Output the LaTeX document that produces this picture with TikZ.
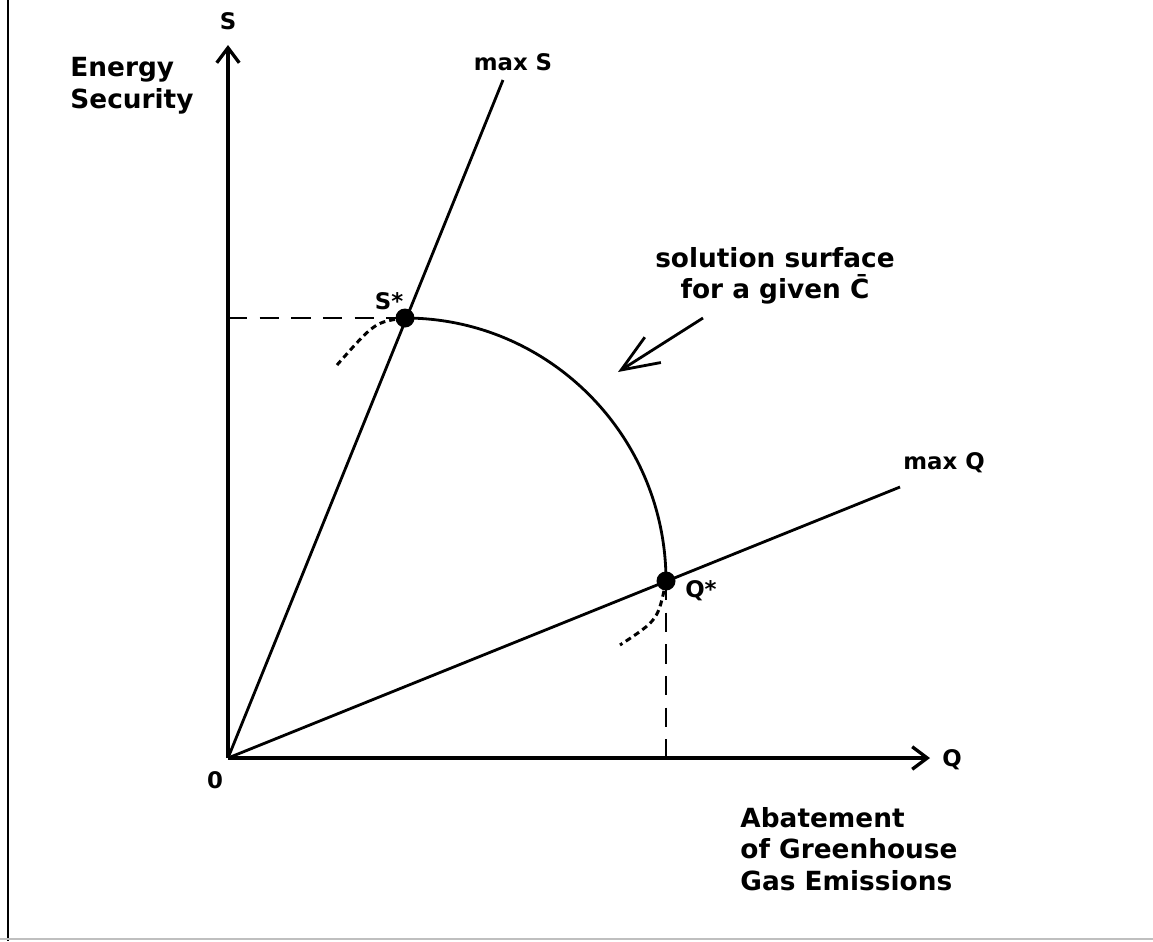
\documentclass[tikz,border=0pt]{standalone}
\usepackage{fontspec}
\setmainfont{DejaVu Sans}
\usetikzlibrary{arrows.meta,positioning}

\begin{document}
\begin{tikzpicture}[
  x=0.02cm, y=-0.02cm,
  axis/.style={line width=1.9pt, -{Straight Barb[length=0.3cm, width=0.45cm, line width=1.9pt]}},
  ray/.style={line width=1.6pt},
  guide/.style={line width=1.6pt, dash pattern=on 11pt off 7pt},
  isoquant/.style={line width=1.7pt, dash pattern=on 3.4pt off 2.3pt},
  pointer/.style={line width=1.6pt, -{Straight Barb[length=0.75cm, width=0.6cm, line width=1.6pt]}},
  dot/.style={circle, fill=black, inner sep=0pt, minimum size=0.38cm},
  smalltext/.style={font=\bfseries\fontsize{13}{15}\selectfont, inner sep=0pt},
  bigtext/.style={font=\bfseries\fontsize{15}{18}\selectfont, inner sep=0pt, align=left}
]
  \useasboundingbox (0,0) rectangle (1153,941);

  % Frame edges
  \draw[line width=1.3pt] (8,0) -- (8,941);
  \draw[gray!50, line width=1pt] (0,939) -- (1153,939);

  % Axes
  \coordinate (o) at (228,758);
  \coordinate (send) at (228,45);
  \coordinate (qend) at (930,758);
  \draw[axis] (o) -- (send);
  \draw[axis] (o) -- (qend);

  % Optimal points
  \node[dot] (sstar) at (405,318) {};
  \node[dot] (qstar) at (666,581) {};

  % Rays through the optima
  \coordinate (maxs) at (503,80);
  \coordinate (maxq) at (900,487);
  \draw[ray] (o) -- (maxs);
  \draw[ray] (o) -- (maxq);

  % Projections onto the axes
  \draw[guide] (o |- sstar) -- (sstar.center);
  \draw[guide] (qstar.center) -- (qstar |- o);

  % Solution surface
  \draw[ray] (sstar.center) .. controls (549,318) and (666,436) .. (qstar.center);
  \draw[isoquant] (sstar.center) .. controls (375,322) .. (337,365);
  \draw[isoquant] (qstar.center) .. controls (658,620) .. (620,645);

  % Labels
  \node[smalltext] (slab) at (228,21) {S};
  \node[smalltext] (qlab) at (952,760) {Q};
  \node[smalltext] (olab) at (215,780) {0};
  \node[smalltext] (maxslab) at (513,62) {max S};
  \node[smalltext] (maxqlab) at (944,463) {max Q};
  \node[smalltext] (sstarlab) at (389,301) {S*};
  \node[smalltext] (qstarlab) at (701,591) {Q*};
  \node[bigtext] (energy) at (132,86) {Energy\\Security};
  \node[bigtext] (abate) at (849,849) {Abatement\\of Greenhouse\\Gas Emissions};
  \node[bigtext, align=center] (sol) at (775,276) {solution surface\\for a given \=C};

  \coordinate (soltail) at (703,318);
  \coordinate (soltip) at (618,372);
  \draw[pointer] (soltail) -- (soltip);
\end{tikzpicture}
\end{document}
